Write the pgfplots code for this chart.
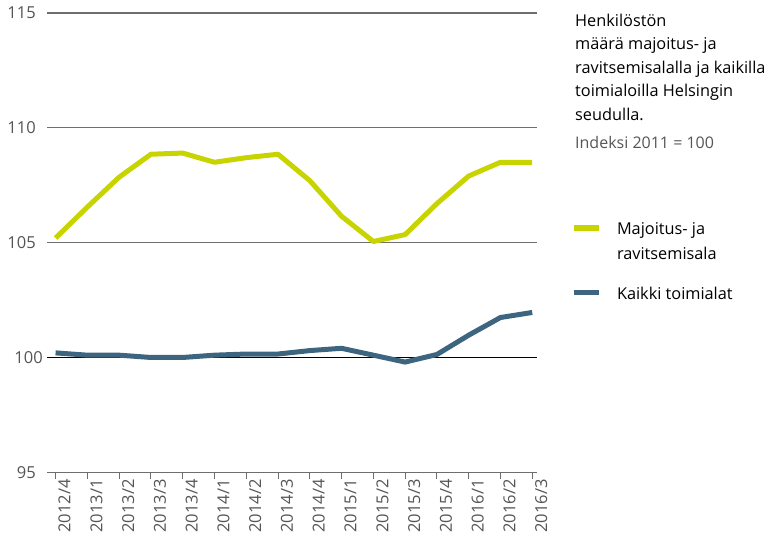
\documentclass[border=0pt]{standalone}
\usepackage{pgfplots}
\pgfplotsset{compat=1.18}
\usepackage{fontspec}
\setmainfont{Open Sans}
\definecolor{ylw}{HTML}{C8D400}
\definecolor{blu}{HTML}{3E6580}
\definecolor{grd}{HTML}{6E6E6E}
\definecolor{lbl}{HTML}{555555}
\begin{document}
\begin{tikzpicture}
\useasboundingbox (0bp,0bp) rectangle (784bp,543bp);
\begin{axis}[
  at={(47bp,70.7bp)}, anchor=south west,
  width=490bp, height=459.3bp, scale only axis,
  xmin=-0.27, xmax=15.15, ymin=95, ymax=115,
  axis lines*=left,
  y axis line style={draw=none},
  x axis line style={grd, line width=1.2bp},
  xtick={0,...,15},
  xticklabels={2012/4,2013/1,2013/2,2013/3,2013/4,2014/1,2014/2,2014/3,2014/4,2015/1,2015/2,2015/3,2015/4,2016/1,2016/2,2016/3},
  ytick={95,105,110,115},
  extra y ticks={100},
  ymajorgrids,
  grid style={grd, line width=1.2bp},
  extra y tick style={grid style={black, line width=1.1bp}, major tick length=0pt},
  tick align=outside,
  major tick length=7bp,
  xtick style={grd, line width=1bp},
  ytick style={draw=none},
  tick label style={font=\fontsize{16.5bp}{19bp}\selectfont, text=lbl},
  xticklabel style={rotate=90, anchor=east, inner sep=0pt, xshift=0bp, yshift=-9bp},
  yticklabel style={anchor=east, inner sep=0pt, xshift=-4bp},
  /pgf/number format/assume math mode=true,
  legend style={at={(axis description cs:1.0694,0.548)}, anchor=north west,
    draw=none, fill=none, inner sep=0pt, outer sep=0pt,
    column sep=13bp, row sep=46.6bp,
    font=\fontsize{16.3bp}{25bp}\selectfont,
    cells={anchor=base west, inner sep=0pt}},
  legend image code/.code={\draw[#1, line width=5.5bp] (0bp,6.5bp) -- (25.5bp,6.5bp);},
]
\addplot[ylw, line width=5bp, line join=round] coordinates {
(0,105.2) (1,106.55) (2,107.85) (3,108.85) (4,108.9) (5,108.5) (6,108.7) (7,108.85)
(8,107.7) (9,106.15) (10,105.05) (11,105.35) (12,106.7) (13,107.9) (14,108.5) (15,108.5)};
\addlegendentry{\parbox[t]{170bp}{Majoitus- ja\\ravitsemisala}}
\addplot[blu, line width=5bp, line join=round] coordinates {
(0,100.2) (1,100.1) (2,100.1) (3,100.0) (4,100.0) (5,100.1) (6,100.15) (7,100.15)
(8,100.3) (9,100.4) (10,100.1) (11,99.8) (12,100.13) (13,100.97) (14,101.74) (15,101.96)};
\addlegendentry{Kaikki toimialat}
\end{axis}
\node[anchor=base west, align=left, inner sep=0pt, font=\fontsize{16.3bp}{23.5bp}\selectfont]
  at (575bp,422.5bp) {Henkilöstön\\määrä majoitus- ja\\ravitsemisalalla ja kaikilla\\toimialoilla Helsingin\\seudulla.};
\node[anchor=base west, inner sep=0pt, text=lbl, font=\fontsize{16bp}{19bp}\selectfont]
  at (575bp,394bp) {Indeksi 2011 = 100};
\end{tikzpicture}
\end{document}
